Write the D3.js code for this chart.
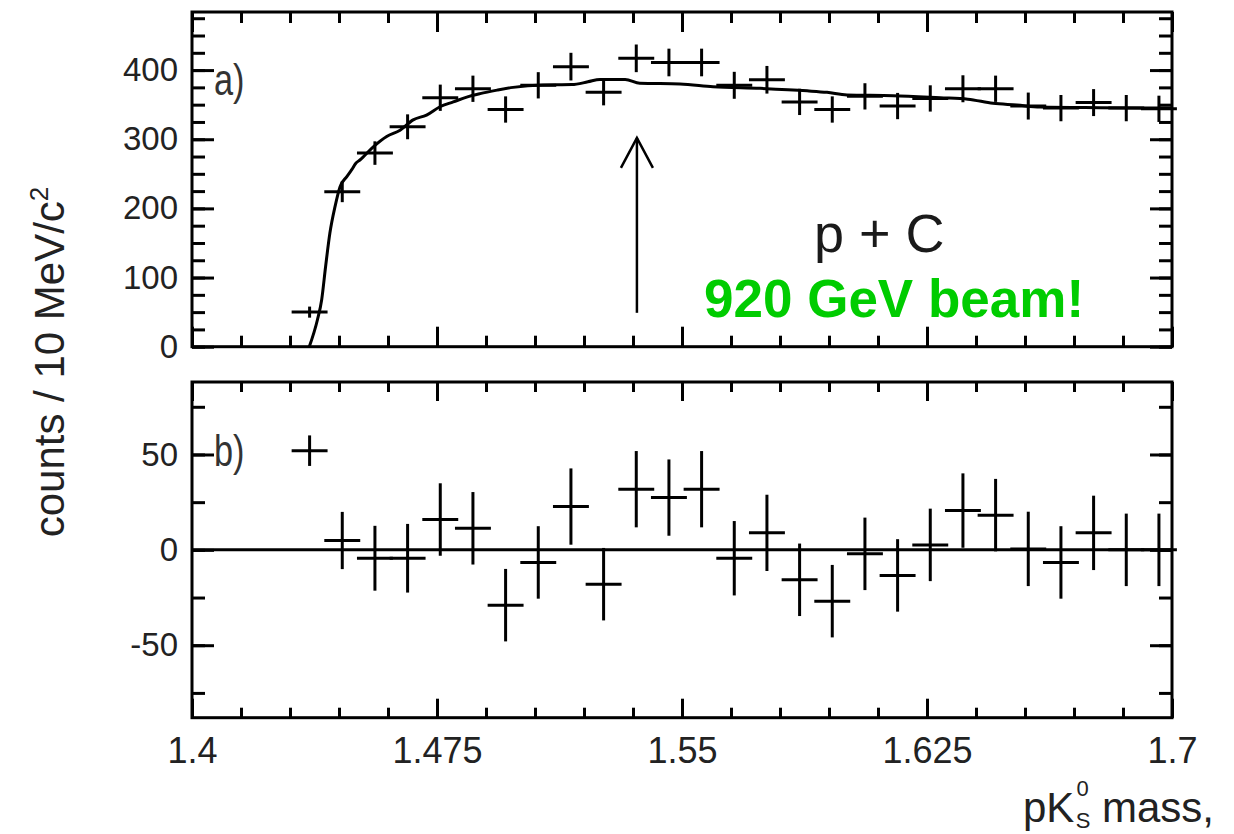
<!DOCTYPE html>
<html><head><meta charset="utf-8">
<script src="https://cdn.jsdelivr.net/npm/d3@7"></script>
<style>
body{margin:0;background:#fff}
text{font-family:"Liberation Sans",Arial,Helvetica,sans-serif}
</style>
</head><body>
<svg id="c" width="1234" height="834"></svg>
<script>
// ---------- data ----------
const massBins = [1.436,1.446,1.456,1.466,1.476,1.486,1.496,1.506,1.516,1.526,1.536,1.546,1.556,1.566,1.576,1.586,1.596,1.606,1.616,1.626,1.636,1.646,1.656,1.666,1.676,1.686,1.696];
const counts   = [50,224,280,318,360,373,343,378,405,368,417,411,411,378,386,354,343,362,348,359,373,373,348,345,353,345,344];
const errors   = [8,15,17,18,19,19,19,19,20,19,20,20,20,19.5,20,19,19,19,19,19,19.5,19,19.5,19,19.5,19,19];
const residuals= [52,4.9,-4.4,-4.4,15.9,11.3,-29,-6.6,22.7,-18,31.8,27.4,31.8,-4.4,8.9,-15.7,-26.9,-2.1,-13.4,2.6,20.6,18.2,0.5,-6.6,8.9,0,0];
const fitMass   = [1.4359,1.4384,1.4397,1.4409,1.4422,1.4438,1.4453,1.4474,1.4489,1.4501,1.4514,1.4555,1.4596,1.4637,1.4677,1.4718,1.4759,1.4800,1.4841,1.4882,1.4934,1.4983,1.5074,1.5163,1.5212,1.5249,1.5326,1.5371,1.5494,1.5595,1.5739,1.5883,1.5944,1.6005,1.6146,1.6290,1.6375,1.6452,1.6525,1.6596,1.6780,1.7000];
const fitCounts = [0,39,68,116,164,203,231,246,256,265,270,289,304,313,328,335,347,354,361,366,371,375,378.5,379,383,386.5,386.5,381,380,376,373.6,370,367.8,364,363,360,358,352,349.5,346.5,345.6,345];
const xMajorTicks = [1.4,1.475,1.55,1.625,1.7];
const xTickLabels = ["1.4","1.475","1.55","1.625","1.7"];
const yTopMajor = [0,100,200,300,400];
const yTopLabels = ["0","100","200","300","400"];
const yBotMajor = [-50,0,50];
const yBotLabels = ["-50","0","50"];
const arrowMass = 1.5362, arrowFrom = 49, arrowTo = 302;

// ---------- layout ----------
const svg = d3.select("#c");
const x  = d3.scaleLinear().domain([1.4,1.7]).range([192,1172]);
const yA = d3.scaleLinear().domain([0,484]).range([346.7,12]);
const yB = d3.scaleLinear().domain([-88,88]).range([717.7,382]);
const xMinor = d3.range(0,21).map(i=>1.4+i*0.015);
const yTopMinor = d3.range(0,20).map(i=>i*25);
const yBotMinor = d3.range(-3,4).map(i=>i*25);
const FONT = '"Liberation Sans",Arial,Helvetica,sans-serif';

function clean(g){
  g.select(".domain").remove();
  g.selectAll(".tick line").attr("stroke","#000").attr("stroke-width",3);
  g.selectAll(".tick text").attr("fill","#222").style("font-family",FONT);
}

function drawPanel(y, yMaj, yLab, yMin, xMajLen, xMinLen, showXLabels){
  const [y0,y1] = [y.range()[1], y.range()[0]];
  svg.append("rect").attr("x",192).attr("y",y0).attr("width",980).attr("height",y1-y0)
    .attr("fill","none").attr("stroke","#000").attr("stroke-width",3);
  svg.append("g").attr("transform",`translate(0,${y1})`)
    .call(d3.axisBottom(x).tickValues(xMinor).tickSize(-xMinLen).tickFormat("")).call(clean);
  const gx = svg.append("g").attr("transform",`translate(0,${y1})`)
    .call(d3.axisBottom(x).tickValues(xMajorTicks).tickSize(-xMajLen).tickPadding(20)
      .tickFormat((d,i)=>showXLabels?xTickLabels[i]:"")).call(clean);
  gx.selectAll(".tick text").attr("font-size",36);
  svg.append("g").attr("transform",`translate(0,${y0})`)
    .call(d3.axisTop(x).tickValues(xMinor).tickSize(-xMinLen).tickFormat("")).call(clean);
  svg.append("g").attr("transform",`translate(0,${y0})`)
    .call(d3.axisTop(x).tickValues(xMajorTicks).tickSize(-xMajLen).tickFormat("")).call(clean);
  svg.append("g").attr("transform","translate(192,0)")
    .call(d3.axisLeft(y).tickValues(yMin).tickSize(-13).tickFormat("")).call(clean);
  const gy = svg.append("g").attr("transform","translate(192,0)")
    .call(d3.axisLeft(y).tickValues(yMaj).tickSize(-22).tickPadding(14).tickFormat((d,i)=>yLab[i])).call(clean);
  gy.selectAll(".tick text").attr("font-size",33);
  svg.append("g").attr("transform","translate(1172,0)")
    .call(d3.axisRight(y).tickValues(yMin).tickSize(-13).tickFormat("")).call(clean);
  svg.append("g").attr("transform","translate(1172,0)")
    .call(d3.axisRight(y).tickValues(yMaj).tickSize(-22).tickFormat("")).call(clean);
}

drawPanel(yA, yTopMajor, yTopLabels, yTopMinor, 20, 11, false);
drawPanel(yB, yBotMajor, yBotLabels, yBotMinor, 19, 10, true);

// fit curve (top)
svg.append("path")
  .datum(fitMass.map((m,i)=>[m,fitCounts[i]]))
  .attr("d", d3.line().x(d=>x(d[0])).y(d=>yA(d[1])).curve(d3.curveMonotoneX))
  .attr("fill","none").attr("stroke","#000").attr("stroke-width",3);

// zero line (bottom)
svg.append("line").attr("x1",x(1.4)).attr("x2",x(1.7)).attr("y1",yB(0)).attr("y2",yB(0))
  .attr("stroke","#000").attr("stroke-width",3);

// error-bar crosses
function crosses(vals, y){
  const g = svg.append("g").attr("stroke","#000").attr("stroke-width",3);
  massBins.forEach((m,i)=>{
    g.append("line").attr("x1",x(m-0.0055)).attr("x2",x(m+0.0055)).attr("y1",y(vals[i])).attr("y2",y(vals[i]));
    g.append("line").attr("x1",x(m)).attr("x2",x(m)).attr("y1",y(vals[i]-errors[i])).attr("y2",y(vals[i]+errors[i]));
  });
}
crosses(counts, yA);
crosses(residuals, yB);

// arrow
const ax = x(arrowMass);
svg.append("line").attr("x1",ax).attr("x2",ax).attr("y1",yA(arrowFrom)).attr("y2",yA(arrowTo))
  .attr("stroke","#000").attr("stroke-width",2.5);
svg.append("polyline")
  .attr("points",`${ax-16},${yA(arrowTo)+30} ${ax},${yA(arrowTo)} ${ax+16},${yA(arrowTo)+30}`)
  .attr("fill","none").attr("stroke","#000").attr("stroke-width",2.5);

// texts
svg.append("text").attr("transform","translate(214,95) scale(0.78,1)").attr("font-size",44).attr("fill","#333").text("a)");
svg.append("text").attr("transform","translate(214,466) scale(0.78,1)").attr("font-size",44).attr("fill","#333").text("b)");
svg.append("text").attr("x",814).attr("y",252).attr("font-size",54).attr("fill","#1a1a1a").text("p + C");
svg.append("text").attr("x",704).attr("y",317).attr("font-size",53).attr("font-weight","bold").attr("fill","#00cc00").text("920 GeV beam!");

// y axis title
const yt = svg.append("text").attr("transform","translate(64,362) rotate(-90)")
  .attr("text-anchor","middle").attr("font-size",42).attr("fill","#222");
yt.append("tspan").text("counts / 10 MeV/c");
yt.append("tspan").attr("font-size",26).attr("dy",-16).text("2");

// x axis title
const xt = svg.append("text").attr("x",1023).attr("y",822).attr("font-size",42).attr("fill","#222");
xt.append("tspan").text("pK");
xt.append("tspan").attr("font-size",22).attr("dy",-26).attr("dx",2).text("0");
xt.append("tspan").attr("font-size",22).attr("dy",32).attr("dx",-13).text("S");
xt.append("tspan").attr("dy",-6).text(" mass,");
</script>
</body></html>
